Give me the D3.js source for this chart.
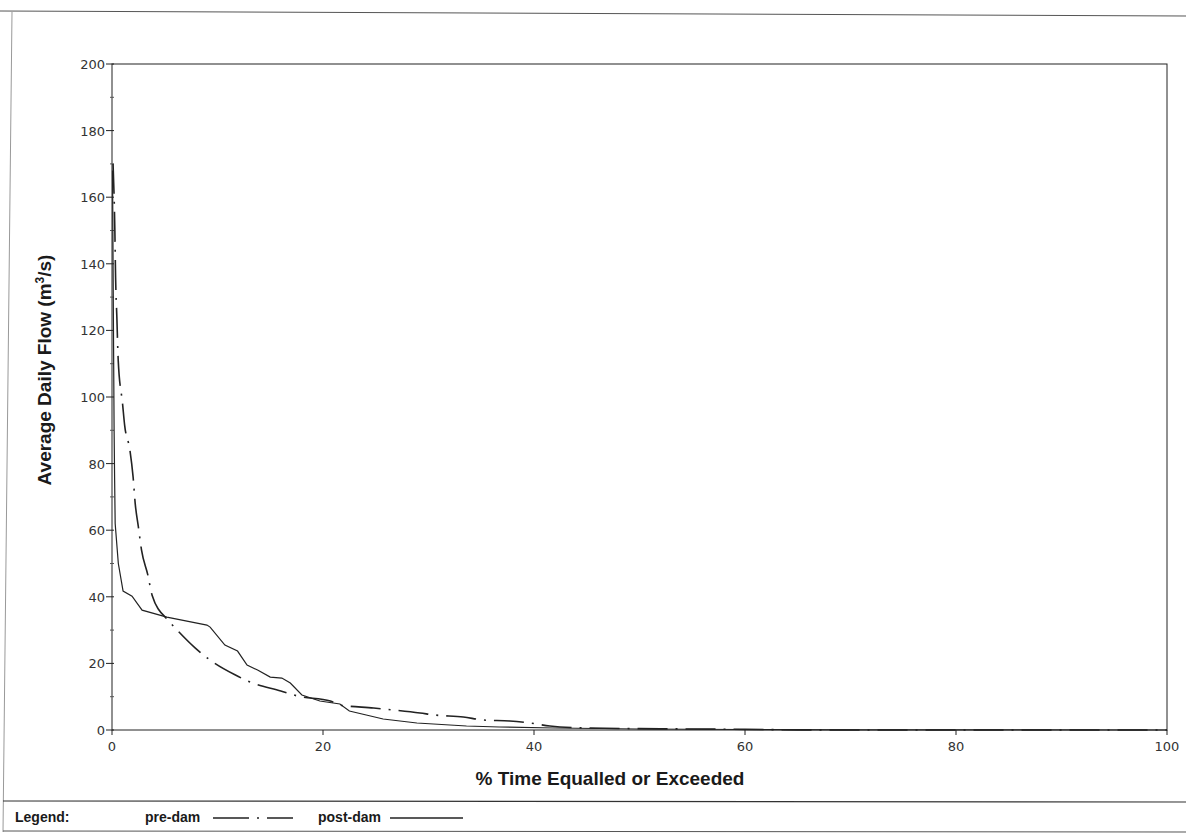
<!DOCTYPE html>
<html>
<head>
<meta charset="utf-8">
<script src="https://cdn.jsdelivr.net/npm/d3@7"></script>
<style>
  body { margin: 0; background: #fff; }
  svg { display: block; }
  .tick-label { font-family: "DejaVu Sans", sans-serif; font-size: 13px; fill: #333; }
  .title { font-family: "Liberation Sans", Arial, sans-serif; font-weight: bold; font-size: 19px; fill: #1a1a1a; }
  .legend-text { font-family: "Liberation Sans", Arial, sans-serif; font-weight: bold; font-size: 14px; fill: #1a1a1a; }
</style>
</head>
<body>
<div id="chart"></div>
<script>
// flow duration data (% time, m3/s)
const preDamPct  = [0.1, 0.27, 0.34, 0.46, 0.59, 1.0, 1.2, 1.7, 2.0, 2.2, 2.5, 2.8, 3.4, 3.8, 5.3, 6.0, 7.9, 9.3, 11.7, 13.1, 16.0, 17.6, 20.7, 21.6, 24.8, 26.7, 29.2, 30.6, 33.3, 35.2, 37.7, 39.6, 41.5, 45, 50, 55, 60, 65, 70, 100];
const preDamFlow = [170, 150, 136, 124, 111, 98, 91.5, 84, 76, 68, 61, 54, 46.5, 40.5, 33, 30.6, 24.6, 21, 16.5, 14.4, 11.7, 10.2, 8.7, 7.5, 6.6, 6.0, 5.1, 4.5, 3.9, 3.0, 2.7, 2.1, 1.2, 0.6, 0.4, 0.3, 0.2, 0.05, 0, 0];

const postDamPct  = [0.05, 0.1, 0.15, 0.2, 0.25, 0.3, 0.6, 1.05, 1.9, 2.85, 5.2, 9.0, 9.3, 10.7, 11.9, 12.8, 13.8, 15.0, 16.1, 16.9, 18.0, 19.7, 21.6, 22.5, 24.1, 25.7, 28.9, 33.6, 36.7, 42, 50, 60, 70, 100];
const postDamFlow = [168, 140, 115, 90, 75, 62, 50, 41.7, 40.2, 36, 33.9, 31.5, 30.9, 25.5, 23.7, 19.5, 18, 15.9, 15.6, 14.1, 10.5, 8.7, 7.8, 5.7, 4.5, 3.3, 2.1, 1.2, 0.9, 0.6, 0.3, 0.15, 0.05, 0];

const xTicks = [0, 20, 40, 60, 80, 100];
const yTicks = [0, 20, 40, 60, 80, 100, 120, 140, 160, 180, 200];
const yMinorTicks = [10, 30, 50, 70, 90, 110, 130, 150, 170, 190];

const W = 1186, H = 838;
const svg = d3.select("#chart").append("svg").attr("width", W).attr("height", H);

const x = d3.scaleLinear().domain([0, 100]).range([112, 1167]);
const y = d3.scaleLinear().domain([0, 200]).range([730, 64]);

const ink = "#222";

// outer frame of the scanned page
svg.append("line").attr("x1", 0).attr("x2", W).attr("y1", 11).attr("y2", 16).attr("stroke", "#555").attr("stroke-width", 1);
svg.append("line").attr("x1", 12).attr("x2", 3).attr("y1", 12).attr("y2", 832).attr("stroke", "#999").attr("stroke-width", 1);
svg.append("line").attr("x1", 3).attr("x2", W).attr("y1", 801).attr("y2", 802).attr("stroke", "#333").attr("stroke-width", 1.2);
svg.append("line").attr("x1", 3).attr("x2", W).attr("y1", 831).attr("y2", 832).attr("stroke", "#555").attr("stroke-width", 1);

// plot box
svg.append("rect")
  .attr("x", x(0)).attr("y", y(200))
  .attr("width", x(100) - x(0)).attr("height", y(0) - y(200))
  .attr("fill", "none").attr("stroke", ink).attr("stroke-width", 1);

// y axis ticks
const yAxis = svg.append("g");
yAxis.selectAll("line.major").data(yTicks).enter().append("line")
  .attr("x1", x(0) - 6).attr("x2", x(0) + 2)
  .attr("y1", d => y(d)).attr("y2", d => y(d))
  .attr("stroke", ink).attr("stroke-width", 1);
yAxis.selectAll("line.minor").data(yMinorTicks).enter().append("line")
  .attr("x1", x(0) - 2).attr("x2", x(0) + 2)
  .attr("y1", d => y(d)).attr("y2", d => y(d))
  .attr("stroke", "#555").attr("stroke-width", 1);
yAxis.selectAll("text").data(yTicks).enter().append("text")
  .attr("class", "tick-label")
  .attr("x", x(0) - 7).attr("y", d => y(d) + 5)
  .attr("text-anchor", "end")
  .text(d => d);

// x axis ticks
const xAxis = svg.append("g");
xAxis.selectAll("line").data(xTicks).enter().append("line")
  .attr("x1", d => x(d)).attr("x2", d => x(d))
  .attr("y1", y(0)).attr("y2", y(0) + 5)
  .attr("stroke", ink).attr("stroke-width", 1);
xAxis.selectAll("text").data(xTicks).enter().append("text")
  .attr("class", "tick-label")
  .attr("x", d => x(d)).attr("y", y(0) + 21)
  .attr("text-anchor", "middle")
  .text(d => d);

// titles
const yTitle = svg.append("text").attr("class", "title")
  .attr("transform", "translate(51,370) rotate(-90)")
  .attr("text-anchor", "middle");
yTitle.append("tspan").text("Average Daily Flow (m");
yTitle.append("tspan").attr("baseline-shift", "super").attr("font-size", "12px").text("3");
yTitle.append("tspan").text("/s)");

svg.append("text").attr("class", "title")
  .attr("x", 610).attr("y", 785)
  .attr("text-anchor", "middle")
  .text("% Time Equalled or Exceeded");

// curves
const pre = preDamPct.map((p, i) => [p, preDamFlow[i]]);
const post = postDamPct.map((p, i) => [p, postDamFlow[i]]);

const line = d3.line().x(d => x(d[0])).y(d => y(d[1]));

svg.append("path").datum(post)
  .attr("d", line)
  .attr("fill", "none").attr("stroke", ink).attr("stroke-width", 1.2);

svg.append("path").datum(pre)
  .attr("d", line.curve(d3.curveMonotoneX))
  .attr("fill", "none").attr("stroke", ink).attr("stroke-width", 1.6)
  .attr("stroke-dasharray", "30,8,2,8");

// legend
svg.append("text").attr("class", "legend-text").attr("x", 15).attr("y", 822).text("Legend:");
svg.append("text").attr("class", "legend-text").attr("x", 145).attr("y", 822).text("pre-dam");
svg.append("line").attr("x1", 213).attr("x2", 293).attr("y1", 818).attr("y2", 818)
  .attr("stroke", ink).attr("stroke-width", 1.4).attr("stroke-dasharray", "36,8,2,8");
svg.append("text").attr("class", "legend-text").attr("x", 318).attr("y", 822).text("post-dam");
svg.append("line").attr("x1", 390).attr("x2", 463).attr("y1", 818).attr("y2", 818)
  .attr("stroke", ink).attr("stroke-width", 1.4);
</script>
</body>
</html>
